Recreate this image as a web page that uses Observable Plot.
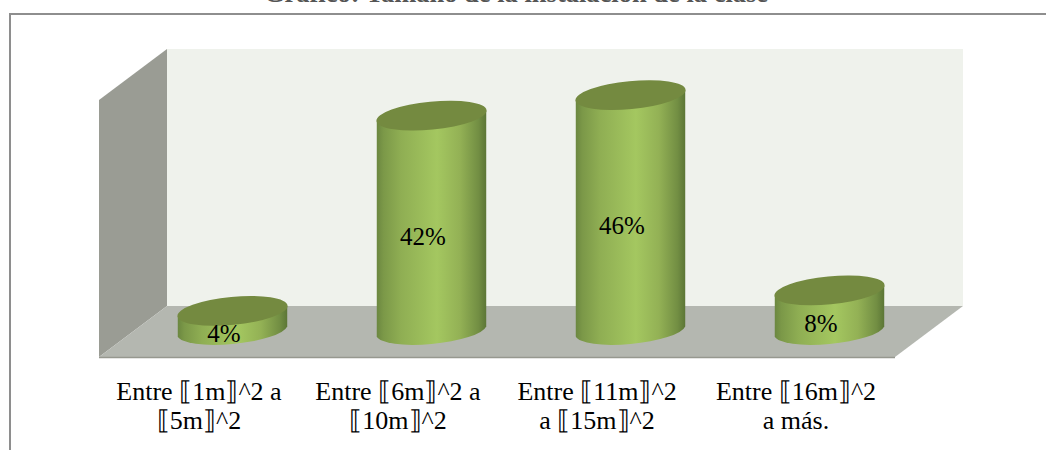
<!DOCTYPE html>
<html>
<head>
<meta charset="utf-8">
<script src="https://cdn.jsdelivr.net/npm/d3@7"></script>
<script src="https://cdn.jsdelivr.net/npm/@observablehq/plot@0.6"></script>
<style>
  html, body { margin: 0; padding: 0; background: #fff; overflow: hidden; }
  svg { display: block; }
</style>
</head>
<body>
<div id="chart"></div>
<script>
// Rangos de tamaño y porcentaje de cada uno
const categorias = [
  "Entre ⟦1m⟧^2 a\n⟦5m⟧^2",
  "Entre ⟦6m⟧^2 a\n⟦10m⟧^2",
  "Entre ⟦11m⟧^2\na ⟦15m⟧^2",
  "Entre ⟦16m⟧^2\na más."
];
const porcentajes = [4, 42, 46, 8];
const titulo = "Gráfico: Tamaño de la instalación de la clase";
const filas = categorias.map((categoria, i) => ({categoria, valor: porcentajes[i]}));

const SERIF = "'Liberation Serif', 'Times New Roman', serif";
const NS = "http://www.w3.org/2000/svg";

// Profundidad de la caja 3D, en píxeles
const fondoX = 68, fondoY = -51;
// Medidas de la elipse del cilindro
const anchoCilindro = 0.55, caidaLateral = 5, rx = 55.3, ry = 14, giro = -5.55;

function el(name, attrs, parent) {
  const node = document.createElementNS(NS, name);
  for (const k in attrs) node.setAttribute(k, attrs[k]);
  if (parent) parent.appendChild(node);
  return node;
}

// Paredes, suelo, marco y título del gráfico
function caja(index, {y}, _values, dim) {
  const g = el("g", {});
  const x0 = dim.marginLeft, x1 = dim.width - dim.marginRight;
  const y0 = y(0), y1 = y(50);
  const poly = (pts, fill) => el("polygon", {points: pts.map(p => p.join(",")).join(" "), fill}, g);
  poly([[x0 + fondoX, y0 + fondoY], [x1 + fondoX, y0 + fondoY], [x1 + fondoX, y1 + fondoY], [x0 + fondoX, y1 + fondoY]], "#eff2ec");
  poly([[x0, y0], [x0 + fondoX, y0 + fondoY], [x0 + fondoX, y1 + fondoY], [x0, y1]], "#9a9c94");
  poly([[x0, y0], [x0 + fondoX, y0 + fondoY], [x1 + fondoX, y0 + fondoY], [x1, y0]], "#b4b7b0");
  el("line", {x1: x0, y1: y0 + 0.5, x2: x1, y2: y0 + 0.5, stroke: "#96988f", "stroke-width": 1.5}, g);
  el("path", {d: `M10 450V14H${dim.width}`, fill: "none", stroke: "#8e8e8e", "stroke-width": 2}, g);
  const rotulo = el("text", {
    x: 516, y: 1.5, "text-anchor": "middle",
    "font-size": 26.5, "font-weight": "bold", fill: "#555"
  }, g);
  rotulo.textContent = titulo;
  return g;
}

// Cilindros: la altura sale del valor a través de la escala y
function cilindros(index, {x, y}) {
  const g = el("g", {});
  const defs = el("defs", {}, g);
  const grad = el("linearGradient", {id: "cuerpo", x1: 0, x2: 1, y1: 0, y2: 0}, defs);
  [[0, "#6b8740"], [0.06, "#7b9848"], [0.22, "#8fae53"], [0.55, "#a4c760"], [0.76, "#93b155"], [0.93, "#728e43"], [1, "#5c7636"]]
    .forEach(([offset, color]) => el("stop", {offset, "stop-color": color}, grad));
  const w = x.bandwidth() * anchoCilindro / 2;
  for (const fila of filas) {
    const cx = x(fila.categoria) + x.bandwidth() / 2 + fondoX / 2;
    const base = y(0) + fondoY / 2;
    const tope = y(fila.valor) + fondoY / 2;
    el("path", {
      d: `M${cx - w} ${tope + caidaLateral}V${base + caidaLateral}` +
         `A${rx} ${ry} ${giro} 0 0 ${cx + w} ${base - caidaLateral}V${tope - caidaLateral}Z`,
      fill: "url(#cuerpo)"
    }, g);
    el("ellipse", {
      cx: 0, cy: 0, rx, ry, fill: "#748a40",
      transform: `translate(${cx} ${tope}) rotate(${giro})`
    }, g);
  }
  return g;
}

const plot = Plot.plot({
  width: 1046,
  height: 450,
  marginLeft: 99,
  marginRight: 151,
  marginTop: 100,
  marginBottom: 93,
  style: {background: "transparent", color: "black", fontFamily: SERIF, overflow: "hidden"},
  x: {type: "band", domain: categorias, padding: 0},
  y: {domain: [0, 50]},
  marks: [
    caja,
    cilindros,
    Plot.text(filas, {
      x: "categoria",
      y: d => d.valor / 2,
      text: d => `${d.valor}%`,
      dx: 25,
      dy: -13,
      fontSize: 25,
      fill: "black"
    }),
    Plot.axisX({
      tickSize: 0,
      tickPadding: 21.5,
      fontSize: 26,
      lineHeight: 1.115,
      label: null,
      fill: "black"
    }),
    Plot.axisY({ticks: [], label: null, tickSize: 0})
  ]
});
document.getElementById("chart").appendChild(plot);
</script>
</body>
</html>
